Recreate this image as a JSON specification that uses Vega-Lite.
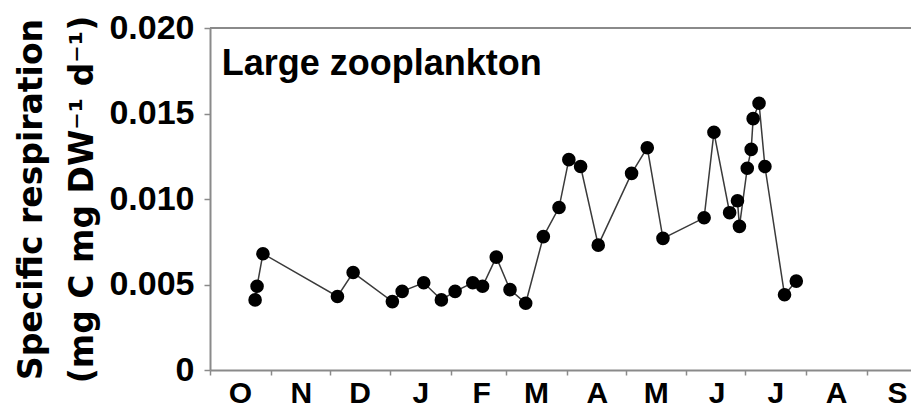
{
  "$schema": "https://vega.github.io/schema/vega-lite/v6.json",
  "width": 701,
  "height": 342,
  "autosize": {"type": "none"},
  "padding": {"left": 210, "top": 28, "right": 0, "bottom": 39},
  "background": "white",
  "config": {
    "view": {"stroke": null},
    "axis": {
      "grid": false,
      "domainColor": "#8a8a8a",
      "domainWidth": 2,
      "tickColor": "#8a8a8a",
      "tickWidth": 1.5,
      "labelColor": "black",
      "labelFont": "Liberation Sans",
      "labelFontWeight": "bold",
      "titleColor": "black"
    }
  },
  "datasets": {
    "respiration": [
      {"date": "2009-10-24", "resp": 0.0041},
      {"date": "2009-10-25", "resp": 0.0049},
      {"date": "2009-10-28", "resp": 0.0068},
      {"date": "2009-12-05", "resp": 0.0043},
      {"date": "2009-12-13", "resp": 0.0057},
      {"date": "2010-01-02", "resp": 0.0040},
      {"date": "2010-01-07", "resp": 0.0046},
      {"date": "2010-01-18", "resp": 0.0051},
      {"date": "2010-01-27", "resp": 0.0041},
      {"date": "2010-02-03", "resp": 0.0046},
      {"date": "2010-02-12", "resp": 0.0051},
      {"date": "2010-02-17", "resp": 0.0049},
      {"date": "2010-02-24", "resp": 0.0066},
      {"date": "2010-03-03", "resp": 0.0047},
      {"date": "2010-03-11", "resp": 0.0039},
      {"date": "2010-03-20", "resp": 0.0078},
      {"date": "2010-03-28", "resp": 0.0095},
      {"date": "2010-04-02", "resp": 0.0123},
      {"date": "2010-04-08", "resp": 0.0119},
      {"date": "2010-04-17", "resp": 0.0073},
      {"date": "2010-05-04", "resp": 0.0115},
      {"date": "2010-05-12", "resp": 0.0130},
      {"date": "2010-05-20", "resp": 0.0077},
      {"date": "2010-06-10", "resp": 0.0089},
      {"date": "2010-06-15", "resp": 0.0139},
      {"date": "2010-06-23", "resp": 0.0092},
      {"date": "2010-06-27", "resp": 0.0099},
      {"date": "2010-06-28", "resp": 0.0084},
      {"date": "2010-07-02", "resp": 0.0118},
      {"date": "2010-07-04", "resp": 0.0129},
      {"date": "2010-07-05", "resp": 0.0147},
      {"date": "2010-07-08", "resp": 0.0156},
      {"date": "2010-07-11", "resp": 0.0119},
      {"date": "2010-07-21", "resp": 0.0044},
      {"date": "2010-07-27", "resp": 0.0052}
    ]
  },
  "layer": [
    {
      "data": {"name": "respiration"},
      "mark": {"type": "line", "color": "#3a3a3a", "strokeWidth": 1.5},
      "encoding": {
        "x": {
          "field": "date",
          "type": "temporal",
          "scale": {
            "type": "utc",
            "domain": [
              {"year": 2009, "month": 10, "date": 1, "utc": true},
              {"year": 2010, "month": 9, "date": 23, "hours": 12, "utc": true}
            ]
          },
          "axis": {
            "title": null,
            "tickCount": {"interval": "month", "step": 1},
            "labelExpr": "slice(utcFormat(datum.value, '%b'), 0, 1)",
            "labelOffset": 30,
            "labelAlign": "center",
            "labelFlush": false,
            "labelOverlap": false,
            "labelFontSize": 30,
            "tickSize": 5,
            "labelPadding": 3
          }
        },
        "y": {
          "field": "resp",
          "type": "quantitative",
          "scale": {"domain": [0, 0.02], "nice": false, "zero": true},
          "axis": {
            "values": [0, 0.005, 0.01, 0.015, 0.02],
            "labelExpr": "datum.value == 0 ? '0' : format(datum.value, '.3f')",
            "labelFontSize": 34,
            "tickSize": 6,
            "labelPadding": 10,
            "title": ["Specific respiration", "(mg C mg DW⁻¹ d⁻¹)"],
            "titleFont": "DejaVu Sans",
            "titleFontWeight": "bold",
            "titleFontSize": 33,
            "titleLineHeight": 51,
            "titlePadding": 9
          }
        }
      }
    },
    {
      "data": {"name": "respiration"},
      "mark": {"type": "circle", "color": "black", "size": 185, "opacity": 1},
      "encoding": {
        "x": {"field": "date", "type": "temporal"},
        "y": {"field": "resp", "type": "quantitative"}
      }
    },
    {
      "data": {"values": [{"top": 0.02}]},
      "mark": {"type": "rule", "color": "#8a8a8a", "strokeWidth": 2},
      "encoding": {"y": {"field": "top", "type": "quantitative"}}
    },
    {
      "data": {"values": [{"label": "Large zooplankton"}]},
      "mark": {
        "type": "text",
        "font": "Liberation Sans",
        "fontWeight": "bold",
        "fontSize": 36,
        "align": "left",
        "baseline": "alphabetic",
        "color": "black"
      },
      "encoding": {
        "x": {"datum": {"year": 2009, "month": 10, "date": 7, "utc": true}, "type": "temporal"},
        "y": {"datum": 0.01725, "type": "quantitative"},
        "text": {"field": "label", "type": "nominal"}
      }
    }
  ]
}
